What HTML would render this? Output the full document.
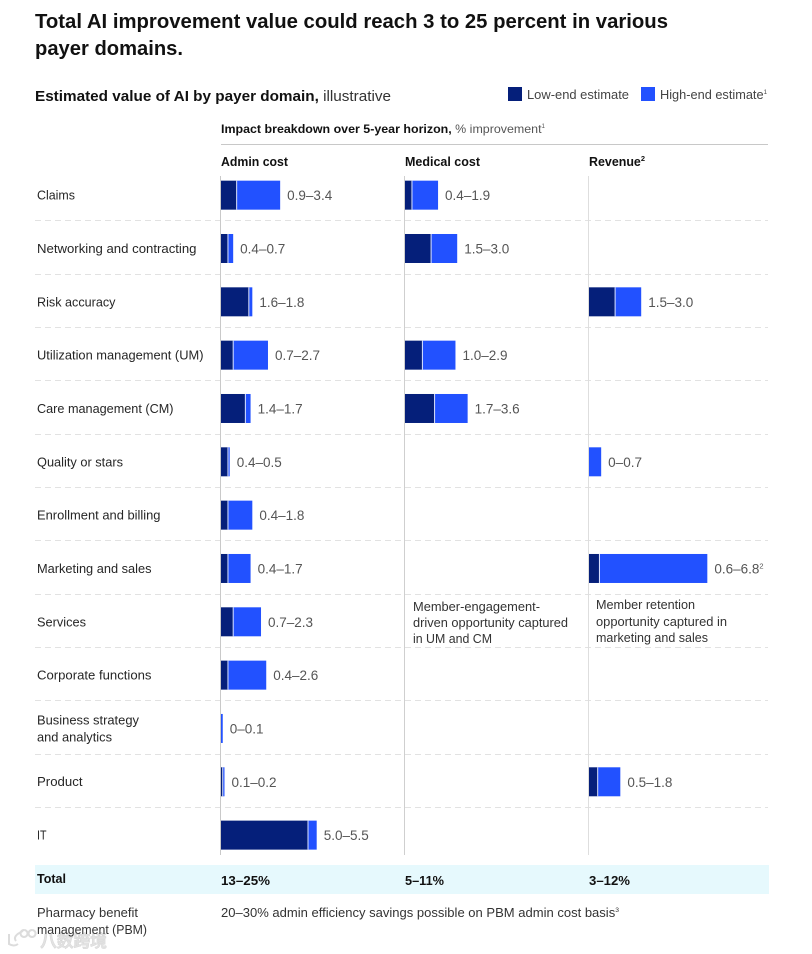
<!DOCTYPE html>
<html lang="en">
<head>
<meta charset="utf-8">
<title>Estimated value of AI by payer domain</title>
<style>
html,body{margin:0;padding:0;background:#fff;}
body{width:812px;height:954px;overflow:hidden;}
svg{display:block;font-family:"Liberation Sans","Noto Sans CJK SC",sans-serif;}
</style>
</head>
<body>
<svg id="chart" width="812" height="954" viewBox="0 0 812 954" xmlns="http://www.w3.org/2000/svg">
  <text x="35" y="28" font-size="20.5" font-weight="700" fill="#111" textLength="633" lengthAdjust="spacingAndGlyphs">Total AI improvement value could reach 3 to 25 percent in various</text>
  <text x="35" y="55" font-size="20.5" font-weight="700" fill="#111" textLength="148" lengthAdjust="spacingAndGlyphs">payer domains.</text>
  <text x="35" y="101" font-size="15" fill="#333" textLength="356" lengthAdjust="spacingAndGlyphs"><tspan font-weight="700" fill="#111">Estimated value of AI by payer domain,</tspan> illustrative</text>

  <rect x="508" y="87" width="14" height="14" fill="#051f7a"/>
  <text x="527" y="99" font-size="12.5" fill="#444" textLength="102" lengthAdjust="spacingAndGlyphs">Low-end estimate</text>
  <rect x="641" y="87" width="14" height="14" fill="#2251ff"/>
  <text x="660" y="99" font-size="12.5" fill="#444" textLength="107" lengthAdjust="spacingAndGlyphs">High-end estimate<tspan font-size="6" dy="-5">1</tspan></text>

  <text x="221" y="133" font-size="12" fill="#555" textLength="324" lengthAdjust="spacingAndGlyphs"><tspan font-weight="700" fill="#111">Impact breakdown over 5-year horizon,</tspan> % improvement<tspan font-size="6" dy="-5">1</tspan></text>
  <line x1="221" y1="144.5" x2="768" y2="144.5" stroke="#c8c8c8" stroke-width="1"/>

  <text x="221" y="166" font-size="12.5" font-weight="700" fill="#111" textLength="67" lengthAdjust="spacingAndGlyphs">Admin cost</text>
  <text x="405" y="166" font-size="12.5" font-weight="700" fill="#111" textLength="75" lengthAdjust="spacingAndGlyphs">Medical cost</text>
  <text x="589" y="166" font-size="12.5" font-weight="700" fill="#111" textLength="56" lengthAdjust="spacingAndGlyphs">Revenue<tspan font-size="7.5" dy="-5">2</tspan></text>

  <g id="grid"></g>
  <g id="axes"></g>

  <g id="rows" font-size="12.8" fill="#262626">
    <text x="37" y="199.7" textLength="38" lengthAdjust="spacingAndGlyphs">Claims</text>
    <text x="37" y="253" textLength="159.5" lengthAdjust="spacingAndGlyphs">Networking and contracting</text>
    <text x="37" y="306.3" textLength="78.5" lengthAdjust="spacingAndGlyphs">Risk accuracy</text>
    <text x="37" y="359.7" textLength="166.5" lengthAdjust="spacingAndGlyphs">Utilization management (UM)</text>
    <text x="37" y="413" textLength="136.5" lengthAdjust="spacingAndGlyphs">Care management (CM)</text>
    <text x="37" y="466.3" textLength="86" lengthAdjust="spacingAndGlyphs">Quality or stars</text>
    <text x="37" y="519.6" textLength="123.5" lengthAdjust="spacingAndGlyphs">Enrollment and billing</text>
    <text x="37" y="573" textLength="114.5" lengthAdjust="spacingAndGlyphs">Marketing and sales</text>
    <text x="37" y="626.3" textLength="49" lengthAdjust="spacingAndGlyphs">Services</text>
    <text x="37" y="679.6" textLength="114.5" lengthAdjust="spacingAndGlyphs">Corporate functions</text>
    <text x="37" y="724.5" textLength="102" lengthAdjust="spacingAndGlyphs">Business strategy</text>
    <text x="37" y="741.5" textLength="75" lengthAdjust="spacingAndGlyphs">and analytics</text>
    <text x="37" y="786" textLength="45.5" lengthAdjust="spacingAndGlyphs">Product</text>
    <text x="37" y="839.3" textLength="9.5" lengthAdjust="spacingAndGlyphs">IT</text>
  </g>

  <g id="bars"></g>

  <g font-size="12.5" fill="#333">
    <text x="413" y="611" textLength="127" lengthAdjust="spacingAndGlyphs">Member-engagement-</text>
    <text x="413" y="627" textLength="155" lengthAdjust="spacingAndGlyphs">driven opportunity captured</text>
    <text x="413" y="643" textLength="79" lengthAdjust="spacingAndGlyphs">in UM and CM</text>
  </g>
  <g font-size="12.5" fill="#333">
    <text x="596" y="609" textLength="99" lengthAdjust="spacingAndGlyphs">Member retention</text>
    <text x="596" y="626" textLength="131" lengthAdjust="spacingAndGlyphs">opportunity captured in</text>
    <text x="596" y="642" textLength="112" lengthAdjust="spacingAndGlyphs">marketing and sales</text>
  </g>

  <rect x="35" y="865" width="734" height="29" fill="#e6f9fd"/>
  <text x="37" y="883" font-size="12.5" font-weight="700" fill="#111" textLength="29" lengthAdjust="spacingAndGlyphs">Total</text>
  <text x="221" y="885" font-size="12.5" font-weight="700" fill="#111" textLength="49" lengthAdjust="spacingAndGlyphs">13–25%</text>
  <text x="405" y="885" font-size="12.5" font-weight="700" fill="#111" textLength="39" lengthAdjust="spacingAndGlyphs">5–11%</text>
  <text x="589" y="885" font-size="12.5" font-weight="700" fill="#111" textLength="41" lengthAdjust="spacingAndGlyphs">3–12%</text>

  <text x="40" y="947" font-size="17" font-weight="700" fill="#e2e2e2" stroke="#d4d4d4" stroke-width="0.4" textLength="67" lengthAdjust="spacing">八数跨境</text>
  <path d="M9 934 v10 q5 3 9 0 M23 931 q-11 5 -7 10 M24 930 a3.5 3.5 0 1 0 .1 0 M32 930 a3.5 3.5 0 1 0 .1 0" fill="none" stroke="#dcdcdc" stroke-width="2"/>

  <text x="37" y="917" font-size="12.5" fill="#333" textLength="101" lengthAdjust="spacingAndGlyphs">Pharmacy benefit</text>
  <text x="37" y="934" font-size="12.5" fill="#333" textLength="110" lengthAdjust="spacingAndGlyphs">management (PBM)</text>
  <text x="221" y="917" font-size="12.5" fill="#333" textLength="398" lengthAdjust="spacingAndGlyphs">20–30% admin efficiency savings possible on PBM admin cost basis<tspan font-size="6.5" dy="-5">3</tspan></text>
</svg>
<script>
// Chart data (null = no value for that domain)
var categories = ["Claims","Networking and contracting","Risk accuracy","Utilization management (UM)","Care management (CM)","Quality or stars","Enrollment and billing","Marketing and sales","Services","Corporate functions","Business strategy and analytics","Product","IT"];
var adminLow = [0.9,0.4,1.6,0.7,1.4,0.4,0.4,0.4,0.7,0.4,0,0.1,5.0];
var adminHigh = [3.4,0.7,1.8,2.7,1.7,0.5,1.8,1.7,2.3,2.6,0.1,0.2,5.5];
var medicalLow = [0.4,1.5,null,1.0,1.7,null,null,null,null,null,null,null,null];
var medicalHigh = [1.9,3.0,null,2.9,3.6,null,null,null,null,null,null,null,null];
var revenueLow = [null,null,1.5,null,null,0,null,0.6,null,null,null,0.5,null];
var revenueHigh = [null,null,3.0,null,null,0.7,null,6.8,null,null,null,1.8,null];
var revenueFootnotes = [null,null,null,null,null,null,null,"2",null,null,null,null,null];

var NS = "http://www.w3.org/2000/svg";
var ROW_TOP = 168.5, ROW_H = 53.33, BAR_H = 29, UNIT = 17.4;
var LOW_COLOR = "#051f7a", HIGH_COLOR = "#2251ff";

function rowCenter(i){ return ROW_TOP + ROW_H * i + ROW_H / 2; }
function xScale(origin, v){ return origin + v * UNIT; }
function fmt(v){ return v === 0 ? "0" : v.toFixed(1); }
function make(tag, attrs, parent){
  var el = document.createElementNS(NS, tag);
  for (var k in attrs) el.setAttribute(k, attrs[k]);
  parent.appendChild(el);
  return el;
}

var grid = document.getElementById("grid");
for (var g = 1; g < categories.length; g++) {
  var sepY = Math.round(ROW_TOP + ROW_H * g - 0.5) - 0.5;
  var sep = make("line", {x1:35, x2:768, y1:sepY, y2:sepY, stroke:"#e2e2e2", "stroke-width":1, "stroke-dasharray":"6 4"}, grid);
  
  
}

var columns = [
  {name:"admin", origin:221, axis:"#c9c9c9", low:adminLow, high:adminHigh, notes:null},
  {name:"medical", origin:405, axis:"#cfcfcf", low:medicalLow, high:medicalHigh, notes:null},
  {name:"revenue", origin:589, axis:"#dedede", low:revenueLow, high:revenueHigh, notes:revenueFootnotes}
];

var axes = document.getElementById("axes");
columns.forEach(function(c){
  var ax = make("line", {x1:c.origin - 0.5, x2:c.origin - 0.5, y1:176, y2:855, stroke:c.axis, "stroke-width":1}, axes);
  
  
});

var bars = document.getElementById("bars");
columns.forEach(function(c){
  categories.forEach(function(cat, i){
    if (c.high[i] === null) return;
    var y = rowCenter(i) - BAR_H / 2;
    var x0 = c.origin;
    var xL = xScale(c.origin, c.low[i]);
    var xH = xScale(c.origin, c.high[i]);
    var hi = make("rect", {x:xL, y:y, width:Math.max(xH - xL, 0), height:BAR_H, fill:HIGH_COLOR}, bars);
    
    
    if (c.low[i] > 0) {
      var lo = make("rect", {x:x0, y:y, width:xL - x0, height:BAR_H, fill:LOW_COLOR}, bars);
      
      
      var div = make("rect", {x:xL - 0.5, y:y, width:1, height:BAR_H, fill:"#dfe6ff"}, bars);
      
      
    }
    var label = make("text", {x:xH + 7, y:rowCenter(i) + 5, "font-size":13.5, fill:"#555"}, bars);
    
    
    label.textContent = fmt(c.low[i]) + "–" + fmt(c.high[i]);
    if (c.notes && c.notes[i]) {
      var sup = make("tspan", {"font-size":7.5, dy:-5}, label);
      sup.textContent = c.notes[i];
    }
  });
});
</script>
</body>
</html>
